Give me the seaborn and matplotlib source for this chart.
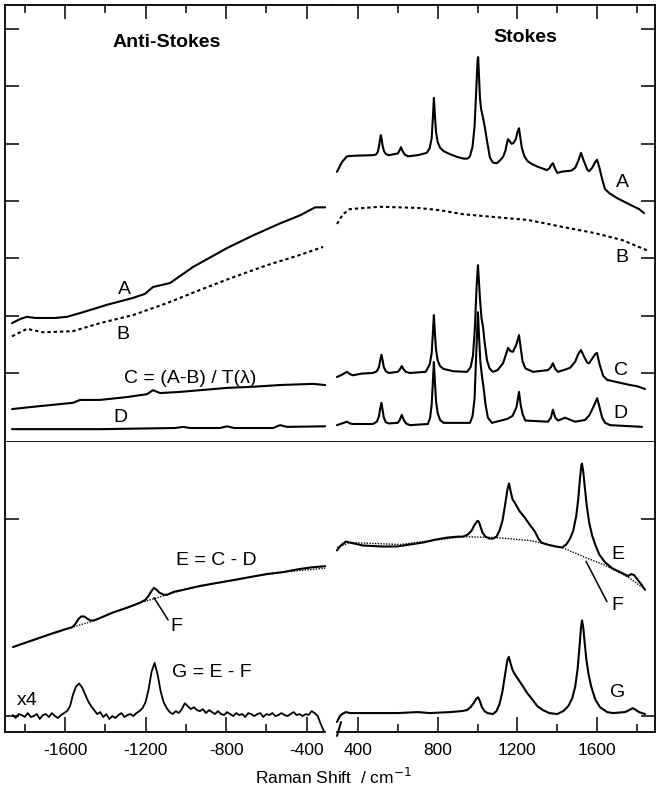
import numpy as np
import matplotlib
matplotlib.use("Agg")
import matplotlib.pyplot as plt
from matplotlib.lines import Line2D
import seaborn as sns

# ---------------- data (Raman shift in cm^-1, intensity in arb. units) ----------------
A_R_x = [295, 320, 345, 380, 475, 490, 500, 507, 512, 515, 519, 524, 531, 540, 555, 600, 608, 616,
         624, 635, 651, 700, 745, 760, 770, 776, 781, 786, 792, 800, 812, 830, 860, 897, 930, 950,
         962, 975, 985, 993, 1000, 1003, 1007, 1012, 1018, 1027, 1037, 1047, 1062, 1077, 1097, 1110,
         1128, 1140, 1148, 1153, 1160, 1170, 1180, 1192, 1200, 1208, 1214, 1222, 1235, 1250, 1265,
         1300, 1348, 1360, 1370, 1378, 1388, 1400, 1420, 1440, 1470, 1490, 1505, 1519, 1533, 1550,
         1559, 1575, 1590, 1599, 1610, 1625, 1639, 1660, 1700, 1740, 1780, 1810, 1835]
A_R_y = [4.51, 4.68, 4.78, 4.79, 4.80, 4.81, 4.86, 4.98, 5.10, 5.15, 5.08, 4.96, 4.87, 4.82, 4.80,
         4.83, 4.88, 4.94, 4.87, 4.81, 4.78, 4.80, 4.84, 4.92, 5.10, 5.45, 5.80, 5.50, 5.20, 5.03,
         4.93, 4.87, 4.82, 4.77, 4.74, 4.74, 4.78, 4.95, 5.30, 5.90, 6.45, 6.51, 6.20, 5.80, 5.60,
         5.46, 5.28, 5.06, 4.76, 4.67, 4.66, 4.70, 4.77, 4.88, 5.02, 5.08, 5.05, 5.00, 5.01, 5.08,
         5.20, 5.27, 5.12, 4.93, 4.78, 4.70, 4.66, 4.60, 4.54, 4.57, 4.63, 4.66, 4.57, 4.49, 4.51,
         4.52, 4.53, 4.58, 4.70, 4.84, 4.70, 4.55, 4.52, 4.58, 4.68, 4.72, 4.60, 4.38, 4.21, 4.14,
         4.05, 3.98, 3.91, 3.86, 3.79]
B_R_x = [295, 325, 360, 510, 700, 811, 927, 1087, 1253, 1424, 1589, 1725, 1850]
B_R_y = [3.60, 3.77, 3.86, 3.90, 3.88, 3.84, 3.77, 3.72, 3.67, 3.55, 3.44, 3.32, 3.14]
C_R_x = [295, 320, 345, 360, 375, 420, 475, 495, 505, 512, 518, 524, 530, 540, 555, 600, 610, 620,
         628, 640, 660, 740, 760, 770, 776, 781, 786, 792, 800, 812, 830, 880, 947, 965, 977, 987,
         995, 1002, 1007, 1012, 1020, 1027, 1035, 1047, 1060, 1077, 1100, 1128, 1145, 1153, 1165,
         1178, 1195, 1208, 1216, 1226, 1240, 1278, 1353, 1368, 1378, 1390, 1404, 1440, 1464, 1490,
         1505, 1519, 1535, 1550, 1559, 1575, 1590, 1599, 1612, 1630, 1650, 1700, 1765, 1800, 1840]
C_R_y = [0.93, 0.97, 1.02, 0.98, 0.96, 0.99, 1.00, 1.03, 1.10, 1.22, 1.32, 1.22, 1.10, 1.03, 1.00,
         1.02, 1.06, 1.12, 1.07, 1.02, 1.00, 1.02, 1.15, 1.35, 1.70, 2.01, 1.70, 1.40, 1.22, 1.12,
         1.07, 1.03, 1.02, 1.10, 1.30, 1.80, 2.50, 2.88, 2.60, 2.30, 1.95, 1.82, 1.55, 1.23, 1.08,
         1.02, 1.05, 1.17, 1.35, 1.44, 1.38, 1.37, 1.50, 1.66, 1.45, 1.20, 1.08, 1.02, 1.05, 1.10,
         1.17, 1.07, 1.02, 1.06, 1.09, 1.20, 1.33, 1.40, 1.28, 1.18, 1.17, 1.25, 1.33, 1.35, 1.15,
         0.95, 0.88, 0.84, 0.79, 0.77, 0.72]
D_R_x = [295, 320, 345, 360, 375, 475, 495, 505, 512, 518, 524, 530, 540, 555, 600, 610, 620, 630,
         641, 661, 751, 762, 770, 776, 781, 786, 792, 800, 812, 830, 962, 975, 985, 993, 1002, 1008,
         1014, 1022, 1030, 1040, 1052, 1072, 1128, 1150, 1175, 1195, 1208, 1216, 1226, 1240, 1353,
         1368, 1378, 1390, 1404, 1425, 1439, 1460, 1489, 1539, 1560, 1580, 1600, 1612, 1625, 1640,
         1665, 1825]
D_R_y = [0.09, 0.12, 0.15, 0.12, 0.11, 0.11, 0.15, 0.24, 0.38, 0.48, 0.35, 0.22, 0.14, 0.12, 0.13,
         0.18, 0.27, 0.18, 0.12, 0.09, 0.11, 0.22, 0.45, 0.85, 1.19, 0.85, 0.50, 0.30, 0.18, 0.13,
         0.13, 0.25, 0.55, 1.30, 2.06, 1.60, 1.20, 0.95, 0.75, 0.45, 0.22, 0.13, 0.18, 0.20, 0.25,
         0.40, 0.67, 0.45, 0.28, 0.17, 0.15, 0.22, 0.36, 0.22, 0.17, 0.20, 0.22, 0.19, 0.15, 0.18,
         0.26, 0.40, 0.56, 0.40, 0.22, 0.13, 0.09, 0.06]

A_L_x = [-1863, -1824, -1789, -1749, -1709, -1650, -1590, -1511, -1391, -1262, -1203, -1163, -1078,
         -964, -795, -666, -532, -433, -358, -308]
A_L_y = [1.87, 1.94, 1.98, 1.96, 1.96, 1.96, 1.98, 2.06, 2.19, 2.31, 2.38, 2.50, 2.57, 2.85, 3.18,
         3.40, 3.61, 3.75, 3.89, 3.89]
B_L_x = [-1863, -1789, -1709, -1560, -1426, -1262, -1093, -929, -765, -597, -433, -318]
B_L_y = [1.64, 1.77, 1.71, 1.73, 1.87, 2.01, 2.22, 2.45, 2.67, 2.88, 3.06, 3.20]
C_L_x = [-1863, -1759, -1560, -1525, -1426, -1292, -1193, -1163, -1128, -1029, -929, -795, -666,
         -532, -368, -308]
C_L_y = [0.37, 0.41, 0.48, 0.53, 0.53, 0.58, 0.63, 0.70, 0.65, 0.67, 0.70, 0.74, 0.76, 0.79, 0.81, 0.79]
D_L_x = [-1863, -1426, -1054, -1014, -979, -830, -795, -760, -567, -532, -497, -308]
D_L_y = [0.02, 0.02, 0.04, 0.06, 0.04, 0.04, 0.07, 0.04, 0.04, 0.09, 0.06, 0.07]

E_L_x = [-1858, -1760, -1675, -1600, -1565, -1550, -1535, -1520, -1505, -1490, -1475, -1455, -1420,
         -1362, -1290, -1227, -1200, -1185, -1170, -1158, -1145, -1130, -1110, -1093, -1060, -1014,
         -930, -845, -760, -681, -600, -517, -440, -368, -308]
E_L_y = [0.70, 0.77, 0.83, 0.88, 0.90, 0.93, 0.98, 1.01, 1.01, 0.99, 0.97, 0.97, 1.00, 1.05, 1.10,
         1.15, 1.18, 1.22, 1.27, 1.30, 1.28, 1.25, 1.23, 1.23, 1.26, 1.28, 1.32, 1.35, 1.38, 1.41,
         1.44, 1.46, 1.49, 1.51, 1.52]
F_L_x = [-1858, -1565, -1516, -1466, -1362, -1227, -1158, -1093, -1014, -845, -681, -517, -308]
F_L_y = [0.70, 0.90, 0.93, 0.96, 1.05, 1.15, 1.19, 1.23, 1.28, 1.35, 1.41, 1.46, 1.50]
G_L_x = np.arange(-1860, -314, 15)
G_L_y = [0.01, -0.02, 0.02, 0.01, -0.01, 0.03, -0.01, 0.00, 0.02, -0.03, 0.01, 0.02, -0.01, 0.03,
         0.00, -0.02, 0.01, 0.03, 0.05, 0.10, 0.22, 0.30, 0.33, 0.29, 0.22, 0.15, 0.10, 0.06, 0.02,
         0.04, -0.01, 0.02, -0.03, 0.00, -0.02, 0.01, 0.03, -0.01, 0.01, 0.02, 0.00, 0.03, 0.05, 0.08,
         0.14, 0.27, 0.45, 0.54, 0.42, 0.25, 0.14, 0.08, 0.04, 0.02, 0.05, 0.03, 0.07, 0.13, 0.10, 0.07,
         0.09, 0.06, 0.05, 0.07, 0.03, 0.06, 0.04, 0.02, 0.05, 0.02, 0.01, 0.04, 0.02, 0.00, 0.03, 0.01,
         0.02, -0.01, 0.03, 0.02, 0.00, 0.02, 0.03, -0.01, 0.02, 0.01, 0.03, 0.00, 0.01, 0.03, 0.01,
         0.00, 0.02, 0.04, 0.01, 0.02, 0.00, 0.02, 0.01, 0.05, 0.03, 0.00, -0.08, -0.15]

E_R_x = [295, 310, 320, 340, 360, 425, 520, 596, 660, 726, 790, 847, 900, 927, 950, 970, 985, 1000,
         1007, 1015, 1025, 1040, 1060, 1077, 1095, 1110, 1125, 1138, 1150, 1158, 1166, 1175, 1188,
         1210, 1238, 1262, 1288, 1305, 1320, 1348, 1390, 1424, 1445, 1464, 1480, 1495, 1505, 1514,
         1521, 1524, 1530, 1538, 1548, 1560, 1575, 1590, 1610, 1639, 1675, 1725, 1755, 1770, 1785,
         1800, 1820, 1840]
E_R_y = [1.68, 1.72, 1.74, 1.77, 1.76, 1.73, 1.72, 1.72, 1.74, 1.76, 1.79, 1.81, 1.82, 1.82, 1.84,
         1.88, 1.94, 1.98, 1.97, 1.92, 1.86, 1.82, 1.80, 1.80, 1.82, 1.88, 1.98, 2.14, 2.30, 2.36,
         2.28, 2.20, 2.16, 2.08, 2.01, 1.94, 1.87, 1.80, 1.76, 1.74, 1.72, 1.71, 1.74, 1.80, 1.88,
         2.03, 2.20, 2.42, 2.55, 2.56, 2.48, 2.32, 2.13, 1.96, 1.83, 1.74, 1.64, 1.56, 1.50, 1.45,
         1.42, 1.44, 1.43, 1.39, 1.34, 1.28]
F_R_x = [295, 360, 611, 927, 1097, 1263, 1424, 1539, 1639, 1755, 1830]
F_R_y = [1.71, 1.76, 1.74, 1.82, 1.81, 1.78, 1.71, 1.61, 1.53, 1.41, 1.30]
G_R_x = [295, 310, 320, 340, 360, 500, 600, 700, 761, 862, 920, 947, 965, 980, 995, 1003, 1012, 1022,
         1035, 1050, 1077, 1095, 1110, 1125, 1138, 1150, 1157, 1165, 1175, 1188, 1205, 1228, 1250,
         1278, 1300, 1328, 1360, 1399, 1430, 1455, 1475, 1490, 1502, 1512, 1519, 1524, 1530, 1537,
         1546, 1557, 1570, 1590, 1614, 1650, 1680, 1740, 1760, 1778, 1795, 1810, 1840]
G_R_y = [-0.06, 0.00, 0.02, 0.04, 0.03, 0.03, 0.03, 0.04, 0.03, 0.04, 0.05, 0.06, 0.09, 0.13, 0.18,
         0.19, 0.15, 0.09, 0.05, 0.03, 0.02, 0.05, 0.12, 0.25, 0.42, 0.57, 0.60, 0.54, 0.47, 0.42,
         0.37, 0.30, 0.23, 0.16, 0.10, 0.06, 0.03, 0.02, 0.05, 0.10, 0.18, 0.30, 0.48, 0.72, 0.90,
         0.97, 0.90, 0.75, 0.57, 0.42, 0.30, 0.17, 0.09, 0.04, 0.03, 0.04, 0.06, 0.08, 0.06, 0.04, 0.02]

anti_major = [-1600, -1200, -800, -400]
anti_minor = [-1800, -1400, -1000, -600]
stokes_major = [400, 800, 1200, 1600]
stokes_minor = [600, 1000, 1400, 1800]
top_yticks = [1, 2, 3, 4, 5, 6, 7]
bot_yticks = [0, 2]

# ---------------- style ----------------
sns.set_theme(style="ticks")
plt.rcParams["font.family"] = ["Liberation Sans", "DejaVu Sans"]
plt.rcParams["axes.linewidth"] = 1.2

fig = plt.figure(figsize=(6.6, 7.88), dpi=100)
L, M, R = 5 / 660, 331 / 660, 655 / 660
yTB, yTT, yBB = 1 - 442 / 788, 1 - 5 / 788, 1 - 732 / 788
axTL = fig.add_axes([L, yTB, M - L, yTT - yTB])
axTR = fig.add_axes([M, yTB, R - M, yTT - yTB])
axBL = fig.add_axes([L, yBB, M - L, yTB - yBB])
axBR = fig.add_axes([M, yBB, R - M, yTB - yBB])

LW = 1.5
def line(ax, x, y, **kw):
    sns.lineplot(x=x, y=y, ax=ax, color="black", sort=False, estimator=None, legend=False, **kw)

line(axTR, A_R_x, A_R_y, lw=LW)
line(axTR, B_R_x, B_R_y, lw=LW, linestyle=(0, (1.6, 1.4)))
line(axTR, C_R_x, C_R_y, lw=LW)
line(axTR, D_R_x, D_R_y, lw=LW)
line(axTL, A_L_x, A_L_y, lw=LW)
line(axTL, B_L_x, B_L_y, lw=LW, linestyle=(0, (1.6, 1.4)))
line(axTL, C_L_x, C_L_y, lw=LW)
line(axTL, D_L_x, D_L_y, lw=LW)
line(axBL, F_L_x, F_L_y, lw=1.0, linestyle=(0, (1, 1)))
line(axBL, E_L_x, E_L_y, lw=LW)
line(axBL, G_L_x, G_L_y, lw=1.3)
line(axBR, F_R_x, F_R_y, lw=1.0, linestyle=(0, (1, 1)))
line(axBR, E_R_x, E_R_y, lw=LW)
line(axBR, G_R_x, G_R_y, lw=LW)

for ax in (axTL, axBL):
    ax.set_xlim(-1898, -279)
for ax in (axTR, axBR):
    ax.set_xlim(265, 1890)
for ax in (axTL, axTR):
    ax.set_ylim(-0.204, 7.42)
for ax in (axBL, axBR):
    ax.set_ylim(-0.162, 2.78)

for ax in (axTL, axTR, axBL, axBR):
    ax.set_xlabel("")
    ax.set_ylabel("")

axTL.spines["right"].set_visible(False)
axTR.spines["left"].set_visible(False)
axBL.spines["right"].set_visible(False)
axBL.spines["top"].set_visible(False)
axBR.spines["left"].set_visible(False)
axBR.spines["top"].set_visible(False)
for ax in (axTL, axTR, axBL, axBR):
    for s in ax.spines.values():
        s.set_color("black")
        s.set_linewidth(1.3)
axBL.spines["bottom"].set_bounds(-1898, -308)
axBR.spines["bottom"].set_bounds(295, 1890)

tick_kw = dict(direction="in", width=1.1, color="black")
axTL.set_xticks(anti_major)
axTL.set_xticks(anti_minor, minor=True)
axTR.set_xticks(stokes_major)
axTR.set_xticks(stokes_minor, minor=True)
for ax in (axTL, axTR):
    ax.tick_params(axis="x", which="major", top=True, bottom=False, labelbottom=False,
                   labeltop=False, length=10, **tick_kw)
    ax.tick_params(axis="x", which="minor", top=True, bottom=False, length=6, **tick_kw)
    ax.set_yticks(top_yticks)
axTL.tick_params(axis="y", left=True, right=False, labelleft=False, length=10, **tick_kw)
axTR.tick_params(axis="y", left=False, right=True, labelleft=False, labelright=False, length=10,
                 **tick_kw)

axBL.set_xticks(anti_major)
axBL.set_xticks(anti_minor, minor=True)
axBL.set_xticklabels([str(v) for v in anti_major])
axBR.set_xticks(stokes_major)
axBR.set_xticks(stokes_minor, minor=True)
axBR.set_xticklabels([str(v) for v in stokes_major])
for ax in (axBL, axBR):
    ax.tick_params(axis="x", which="major", top=False, bottom=True, length=11, pad=8,
                   labelsize=12.5, labelcolor="black", **tick_kw)
    ax.tick_params(axis="x", which="minor", top=False, bottom=True, length=6, **tick_kw)
    ax.set_yticks(bot_yticks)
axBL.tick_params(axis="y", left=True, right=False, labelleft=False, length=10, **tick_kw)
axBR.tick_params(axis="y", left=False, right=True, labelleft=False, labelright=False, length=10,
                 **tick_kw)

# axis-break mark on the Stokes x axis
fig.add_artist(Line2D([337 / 660, 341 / 660], [1 - 736 / 788, 1 - 722 / 788],
                      transform=fig.transFigure, color="black", lw=1.4))

FS = 14
tk = dict(ha="center", va="center", fontsize=FS, color="black")
axTL.text(-1093, 6.77, "Anti-Stokes", fontweight="bold", **tk)
axTR.text(1238, 6.86, "Stokes", fontweight="bold", **tk)
axTL.text(-1307, 2.45, "A", **tk)
axTL.text(-1312, 1.68, "B", **tk)
axTL.text(-979, 0.90, "C = (A-B) / T(λ)", **tk)
axTL.text(-1327, 0.215, "D", **tk)
axTR.text(1725, 4.33, "A", **tk)
axTR.text(1725, 3.02, "B", **tk)
axTR.text(1720, 1.05, "C", **tk)
axTR.text(1715, 0.30, "D", **tk)
axBL.text(-850, 1.58, "E = C - D", **tk)
axBL.text(-1049, 0.91, "F", **tk)
axBL.text(-870, 0.44, "G = E - F", **tk)
axBL.text(-1789, 0.16, "x4", **tk)
axBR.text(1705, 1.64, "E", **tk)
axBR.text(1700, 1.12, "F", **tk)
axBR.text(1705, 0.24, "G", **tk)
axBL.plot([-1158, -1088], [1.20, 0.975], color="black", lw=1.1)
axBR.plot([1544, 1649], [1.57, 1.16], color="black", lw=1.1)

fig.text(0.505, 1 - 777 / 788, "Raman Shift  / cm$^{-1}$", ha="center", va="center",
         fontsize=12.5, color="black")

fig.savefig("out.png", dpi=100)
